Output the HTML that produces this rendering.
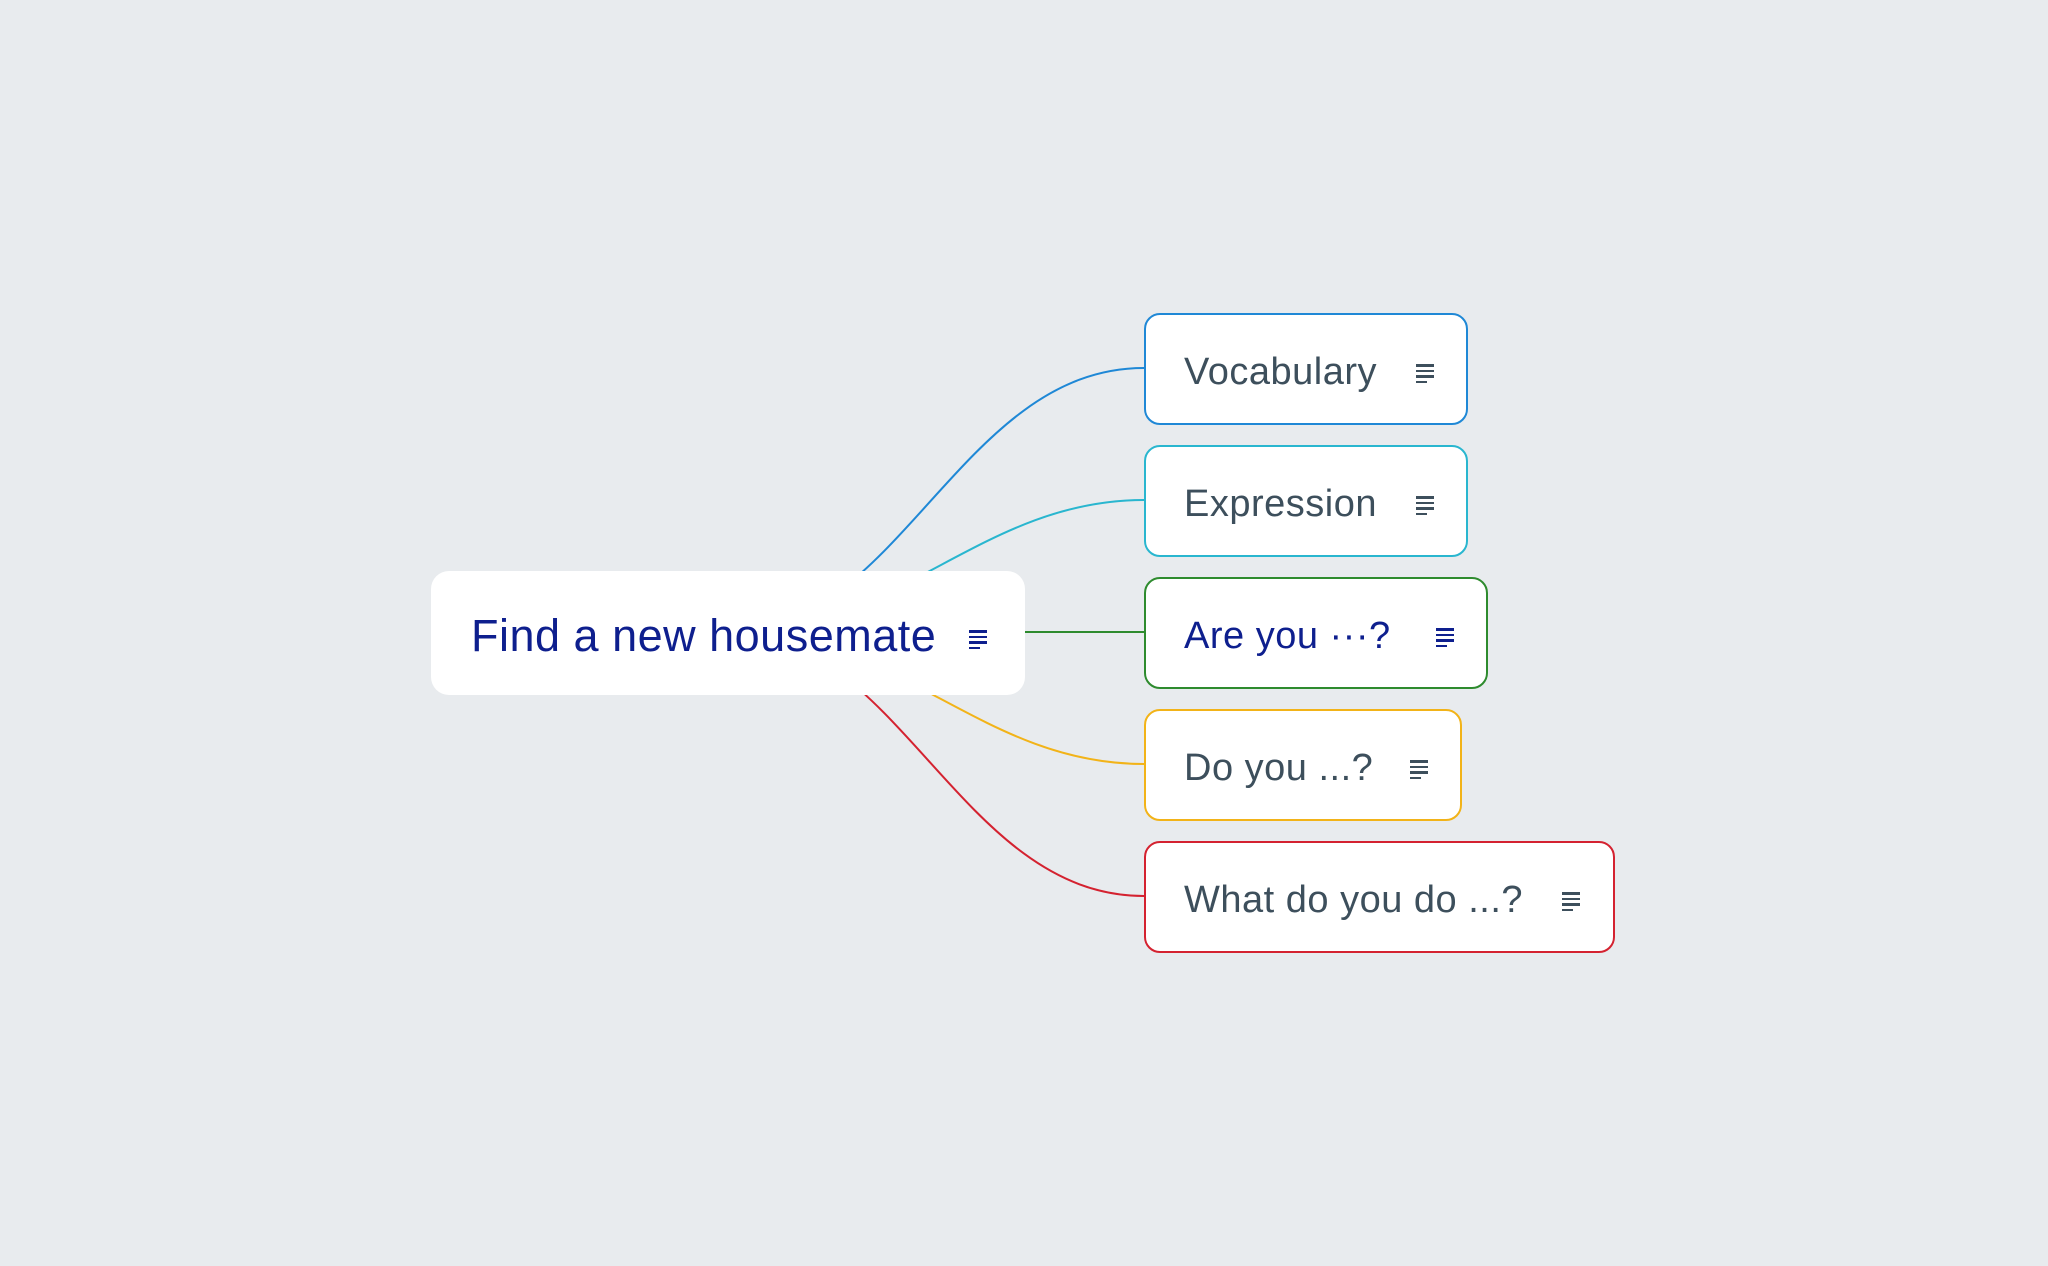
<!DOCTYPE html>
<html><head><meta charset="utf-8"><style>
html,body{margin:0;padding:0;}
body{width:2048px;height:1266px;background:#e8ebee;position:relative;overflow:hidden;font-family:"Liberation Sans",sans-serif;}
.n{position:absolute;box-sizing:border-box;background:#fff;border-radius:16px;border:2px solid;}
.t{position:absolute;left:38px;top:3px;height:100%;display:flex;align-items:center;font-size:38px;color:#3d4f5c;letter-spacing:0.5px;white-space:nowrap;}
.ic{position:absolute;width:18px;}
.ic i{display:block;height:2.5px;background:currentColor;margin-bottom:3px;}
.ic i:last-child{width:11px}
</style></head><body>
<svg width="2048" height="1266" style="position:absolute;left:0;top:0" fill="none" stroke-width="2">
<path d="M728 632 C900 632 960 368 1144 368" stroke="#1f88d6"/>
<path d="M728 632 C900 632 980 500 1144 500" stroke="#29b6cf"/>
<path d="M728 632 L1144 632" stroke="#2e8b2e"/>
<path d="M728 632 C900 632 980 764 1144 764" stroke="#f2b318"/>
<path d="M728 632 C900 632 960 896 1144 896" stroke="#d42230"/>
</svg>
<div class="n" style="left:431px;top:571px;width:594px;height:124px;border:none;border-radius:18px;">
  <div class="t" style="left:40px;font-size:45px;color:#0e1f8e;">Find a new housemate</div>
  <div class="ic" style="left:538px;top:59px;color:#0e1f8e"><i></i><i></i><i></i><i></i></div>
</div>
<div class="n" style="left:1144px;top:313px;width:324px;height:112px;border-color:#1f88d6">
  <div class="t">Vocabulary</div><div class="ic" style="left:270px;top:49px;color:#3d4f5c"><i></i><i></i><i></i><i></i></div></div>
<div class="n" style="left:1144px;top:445px;width:324px;height:112px;border-color:#29b6cf">
  <div class="t">Expression</div><div class="ic" style="left:270px;top:49px;color:#3d4f5c"><i></i><i></i><i></i><i></i></div></div>
<div class="n" style="left:1144px;top:577px;width:344px;height:112px;border-color:#2e8b2e">
  <div class="t" style="color:#0e1f8e">Are you ···?</div><div class="ic" style="left:290px;top:49px;color:#0e1f8e"><i></i><i></i><i></i><i></i></div></div>
<div class="n" style="left:1144px;top:709px;width:318px;height:112px;border-color:#f2b318">
  <div class="t">Do you ...?</div><div class="ic" style="left:264px;top:49px;color:#3d4f5c"><i></i><i></i><i></i><i></i></div></div>
<div class="n" style="left:1144px;top:841px;width:471px;height:112px;border-color:#d42230">
  <div class="t">What do you do ...?</div><div class="ic" style="left:416px;top:49px;color:#3d4f5c"><i></i><i></i><i></i><i></i></div></div>
</body></html>
